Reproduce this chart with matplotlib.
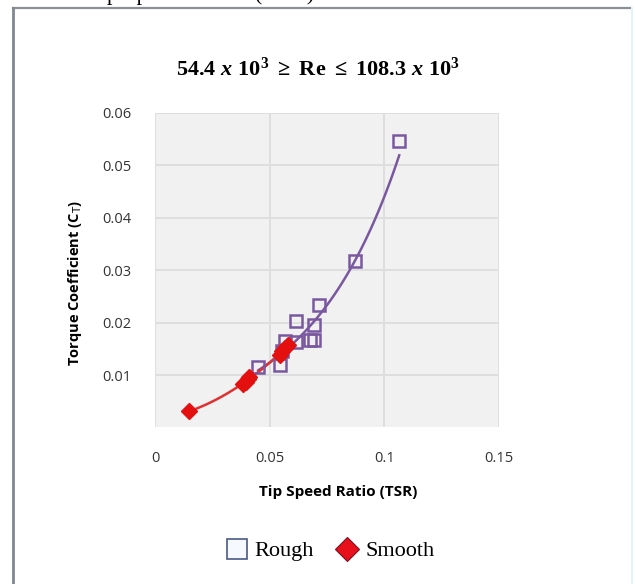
import numpy as np
import matplotlib.pyplot as plt
from matplotlib.lines import Line2D

plt.rcParams['mathtext.fontset'] = 'custom'
plt.rcParams['mathtext.rm'] = 'Liberation Serif:bold'
plt.rcParams['mathtext.it'] = 'Liberation Serif:bold:italic'
plt.rcParams['mathtext.bf'] = 'Liberation Serif:bold'

# Rough surface (TSR, Ct)
rough_tsr = [0.045, 0.0545, 0.0555, 0.0565, 0.0615, 0.0613, 0.0675, 0.0695, 0.0693, 0.0715, 0.087, 0.1065]
rough_ct = [0.0115, 0.0120, 0.0145, 0.0164, 0.0162, 0.0203, 0.0167, 0.0167, 0.0195, 0.0233, 0.0318, 0.0546]

# Smooth surface (TSR, Ct)
smooth_tsr = [0.0150, 0.0385, 0.0395, 0.0405, 0.0412, 0.0545, 0.0555, 0.0568, 0.0578]
smooth_ct = [0.0031, 0.0082, 0.0087, 0.0092, 0.0096, 0.0138, 0.0145, 0.0151, 0.0157]

x_ticks = [0, 0.05, 0.1, 0.15]
x_labels = ['0', '0.05', '0.1', '0.15']
y_ticks = [0.01, 0.02, 0.03, 0.04, 0.05, 0.06]
y_labels = ['0.01', '0.02', '0.03', '0.04', '0.05', '0.06']

purple = '#7a58a0'
red = '#e41010'

fig = plt.figure(figsize=(6.35, 5.84), dpi=100)
ax = fig.add_axes([0.2441, 0.268, 0.5417, 0.539])
ax.set_facecolor('#f1f1f1')

# trend lines (exponential for rough, 2nd order poly for smooth)
rx = np.array(rough_tsr)
ry = np.array(rough_ct)
b, ln_a = np.polyfit(rx, np.log(ry), 1)
xx = np.linspace(rx.min(), rx.max(), 100)
ax.plot(xx, np.exp(ln_a) * np.exp(b * xx), color=purple, lw=1.8, zorder=3)

sx = np.array(smooth_tsr)
sy = np.array(smooth_ct)
p = np.polyfit(sx, sy, 2)
xs = np.linspace(sx.min(), sx.max(), 100)
ax.plot(xs, np.polyval(p, xs), color='#e03030', lw=1.8, zorder=3)

ax.plot(rough_tsr, rough_ct, ls='none', marker='s', ms=9, mfc='none', mec=purple, mew=1.8, zorder=4)
ax.plot(smooth_tsr, smooth_ct, ls='none', marker='D', ms=8, mfc=red, mec=red, zorder=5)

ax.set_xlim(0, 0.15)
ax.set_ylim(0, 0.06)
ax.set_xticks(x_ticks)
ax.set_xticklabels(x_labels)
ax.set_yticks(y_ticks)
ax.set_yticklabels(y_labels)
ax.grid(True, color='#dedede', lw=1.4)
ax.set_axisbelow(True)
for s in ax.spines.values():
    s.set_visible(False)
ax.tick_params(length=0, labelsize=10.5, labelcolor='#333333')
ax.tick_params(axis='x', pad=17)
ax.tick_params(axis='y', pad=17)
for lab in ax.get_xticklabels() + ax.get_yticklabels():
    lab.set_fontfamily('Open Sans')

fig.text(0.532, 1 - 492 / 584, 'Tip Speed Ratio (TSR)', ha='center', va='center',
         fontsize=11, fontweight='bold', family='Open Sans')
fig.text(75 / 635, 1 - 283 / 584, 'Torque Coefficient (C$_{\\mathsf{T}}$)', ha='center', va='center',
         rotation=90, fontsize=10.5, fontweight='bold', family='Open Sans')

fig.text(318 / 635, 1 - 68 / 584,
         r'$54.4\ \mathit{x}\ 10^3\ \geq\ \mathrm{Re}\ \leq\ 108.3\ \mathit{x}\ 10^3$',
         ha='center', va='center', fontsize=16)

# cropped line of the page text above the figure
fig.text(107 / 635, 1.0, 'proposed model (2021)', ha='left', va='baseline',
         fontsize=16, family='Liberation Serif', color='black')

# frame around the figure
fig.add_artist(Line2D([13 / 635, 630 / 635], [1 - 8 / 584, 1 - 8 / 584], color='#8a9098', lw=1.6))
fig.add_artist(Line2D([13 / 635, 13 / 635], [0, 1 - 8 / 584], color='#808890', lw=2.0))
fig.add_artist(Line2D([632 / 635, 632 / 635], [0, 1 - 8 / 584], color='#e6f2fa', lw=1.5))

handles = [
    Line2D([], [], ls='none', marker='s', ms=14, mfc='#f6f9ff', mec='#4a5a86', mew=1.2),
    Line2D([], [], ls='none', marker='D', ms=12, mfc='#e8101a', mec='#7a1020', mew=0.8),
]
fig.legend(handles, ['Rough', 'Smooth'], loc='center', bbox_to_anchor=(330 / 635, 1 - 551 / 584),
           ncol=2, frameon=False, prop={'family': 'Liberation Serif', 'size': 16},
           handletextpad=0.3, columnspacing=1.0, handlelength=1.0)

fig.savefig('out.png', dpi=100)
